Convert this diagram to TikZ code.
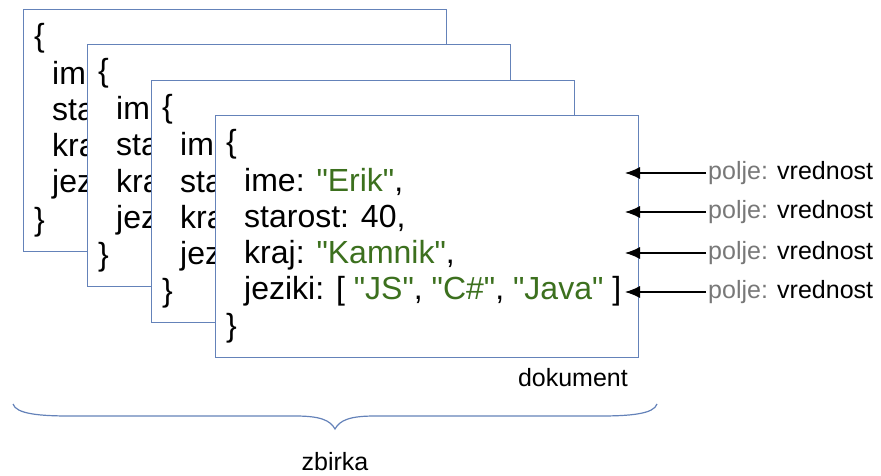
\documentclass[tikz,border=0pt]{standalone}
\usepackage{fontspec}
\setmainfont{Liberation Sans}[Ligatures=TeXOff]
\usetikzlibrary{arrows.meta}
\definecolor{boxblue}{RGB}{100,130,185}
\definecolor{valgreen}{RGB}{60,112,30}
\definecolor{keygray}{RGB}{120,120,120}
\newcommand{\qq}{\char34\relax}
\newcommand{\gs}[1]{\textcolor{valgreen}{\qq#1\qq}}
\tikzset{
  docbox/.style={draw=boxblue, line width=1pt, fill=white, minimum width=423pt, minimum height=242pt, anchor=north west, inner sep=0pt},
  codeline/.style={anchor=base west, inner sep=0pt, font=\fontsize{32}{36}\selectfont},
  lbl/.style={anchor=west, inner sep=2pt, font=\fontsize{25}{30}\selectfont},
  fieldarrow/.style={line width=1.2pt, -{Latex[length=15pt,width=12pt]}},
}
\begin{document}
\begin{tikzpicture}[x=1pt,y=-1pt]
\useasboundingbox (0,0) rectangle (881,476);
% back documents (only the visible starts of their lines)
\foreach \i/\bx/\by in {1/23/9, 2/87/44, 3/151/80}{
  \node[docbox] (d\i) at (\bx,\by) {};
  \node[codeline] (o\i) at (\bx+11,\by+38) {\{};
  \node[codeline] (a\i) at (\bx+29,\by+76) {im};
  \node[codeline] (b\i) at (\bx+29,\by+112) {sta};
  \node[codeline] (c\i) at (\bx+29,\by+148) {kra};
  \node[codeline] (e\i) at (\bx+29,\by+184) {jez};
  \node[codeline] (z\i) at (\bx+11,\by+221) {\}};
}
% front document
\node[docbox] (d4) at (215,115) {};
\node[codeline] (o4) at (226,153) {\{};
\node[codeline] (a4) at (244,191) {ime: \gs{Erik},};
\node[codeline] (b4) at (244,227) {starost: 40,};
\node[codeline] (c4) at (244,263) {kraj: \gs{Kamnik},};
\node[codeline] (e4) at (244,299) {jeziki: [ \gs{JS}, \gs{C\#}, \gs{Java} ]};
\node[codeline] (z4) at (226,336) {\}};
\foreach \j/\yy in {1/173, 2/212, 3/253, 4/292}{
  \node[lbl] (l\j) at (706,\yy) {\textcolor{keygray}{polje:} vrednost};
  \coordinate (t\j) at (625,\yy);
  \draw[fieldarrow] (l\j.west) -- (t\j);
}
\node[anchor=base east, inner sep=0pt, font=\fontsize{25}{30}\selectfont] (dok) at (628,386) {dokument};
\coordinate (bl) at (13,404);
\coordinate (br) at (657,404);
\coordinate (btip) at (335,429);
\draw[boxblue, line width=1.2pt] (bl) .. controls (16,414) and (40,416) .. (70,416)
  -- (295,416) .. controls (320,416) and (330,420) .. (btip)
  .. controls (340,420) and (350,416) .. (375,416)
  -- (600,416) .. controls (630,416) and (654,414) .. (br);
\node[inner sep=0pt, font=\fontsize{25}{30}\selectfont] (zb) at (335,462) {zbirka};
\end{tikzpicture}
\end{document}
